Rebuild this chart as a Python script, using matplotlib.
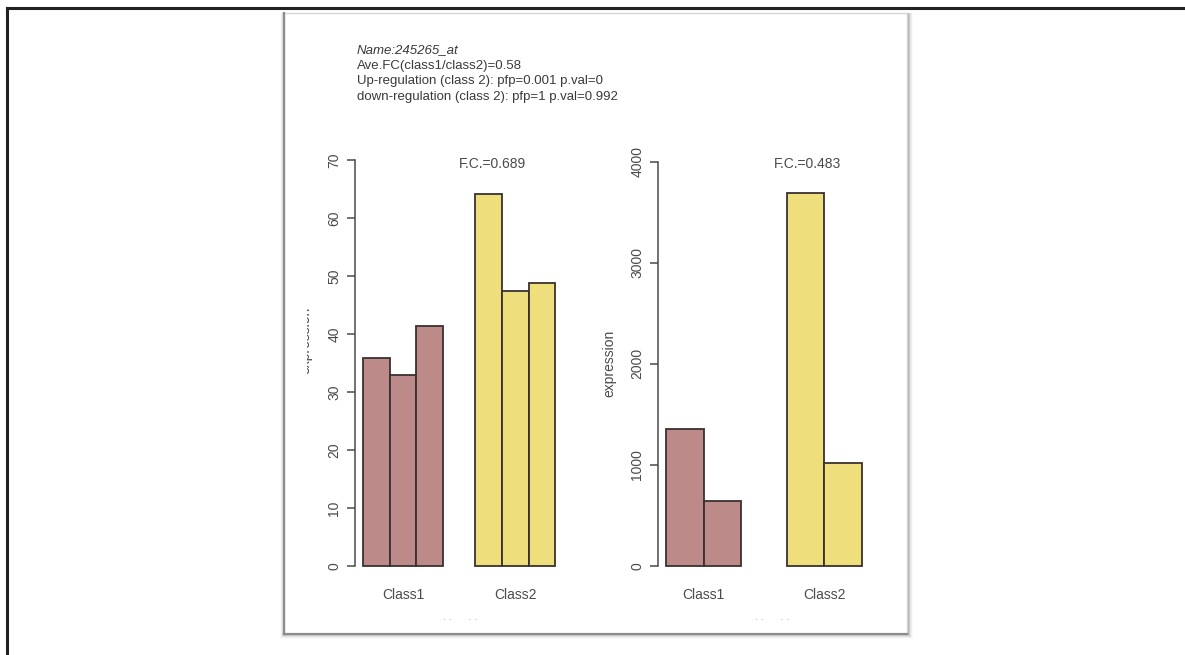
import matplotlib.pyplot as plt
from matplotlib.patches import Rectangle

plt.rcParams['font.family'] = ['Liberation Sans', 'DejaVu Sans']

# probe set summary shown above the panels
probe_name = "Name:245265_at"
summary_lines = [
    "Ave.FC(class1/class2)=0.58",
    "Up-regulation (class 2): pfp=0.001 p.val=0",
    "down-regulation (class 2): pfp=1 p.val=0.992",
]

group_names = ["Class1", "Class2"]

# left panel: 3 replicates per class
left_class1 = [35.9, 32.9, 41.3]
left_class2 = [64.2, 47.4, 48.8]
left_fc = "F.C.=0.689"
left_ticks = [0, 10, 20, 30, 40, 50, 60, 70]

# right panel: 2 replicates per class
right_class1 = [1355, 645]
right_class2 = [3695, 1020]
right_fc = "F.C.=0.483"
right_ticks = [0, 1000, 2000, 3000, 4000]

col_class1 = "#BD8A8A"
col_class2 = "#EEDF7C"
txt = "#3a3a3a"
grey = "#4a4a4a"

W, H = 1185, 655
fig = plt.figure(figsize=(W / 100, H / 100), dpi=100)
fig.patch.set_facecolor("white")


def px_box(x0, y0, x1, y1):
    # pixel box (top-left origin) -> figure fraction
    return [x0 / W, 1 - y1 / H, (x1 - x0) / W, (y1 - y0) / H]


def fr(x, y):
    return x / W, 1 - y / H


# outer frame (only the top/left edges fall inside the image)
fig.add_artist(plt.Line2D([7 / W, 7 / W], [0, 1 - 8 / H], color="#222222", lw=2.2))
fig.add_artist(plt.Line2D([7 / W, 1], [1 - 8 / H, 1 - 8 / H], color="#222222", lw=2.2))

# page with a soft drop shadow
px0, py0, px1, py1 = 284, 13, 907, 634
for i, a in enumerate([0.12, 0.09, 0.06, 0.04, 0.02]):
    d = i + 1
    fig.add_artist(Rectangle(fr(px0 - d + 1, py1 + d), (px1 - px0 + 2 * d) / W,
                             (py1 - py0 + d) / H, transform=fig.transFigure,
                             facecolor="black", edgecolor="none", alpha=a, zorder=-3))
fig.add_artist(Rectangle(fr(px0, py1), (px1 - px0) / W, (py1 - py0) / H,
                         transform=fig.transFigure, facecolor="white",
                         edgecolor="#d4d4d4", lw=1.0, zorder=-2))
# darker left and bottom edges of the page
fig.add_artist(plt.Line2D([px0 / W, px0 / W], [1 - py1 / H, 1 - py0 / H],
                          color="#8c8c8c", lw=1.6, zorder=-1))
fig.add_artist(plt.Line2D([px0 / W, px1 / W], [1 - py1 / H, 1 - py1 / H],
                          color="#8c8c8c", lw=1.6, zorder=-1))

# header text
fig.text(357 / W, 1 - 50 / H, probe_name, style="italic", fontsize=9.5,
         color=txt, va="center")
for k, line in enumerate(summary_lines):
    fig.text(357 / W, 1 - (65.5 + 15.7 * k) / H, line, fontsize=9.5,
             color=txt, va="center")


def bar_panel(box, xlim, ylim, groups, ticks, fc_text, fc_xy):
    ax = fig.add_axes(px_box(*box))
    ax.set_zorder(1)
    ax.set_facecolor("none")
    lefts, centers = [], []
    start = 0.0
    for vals in groups:
        pos = [start + j for j in range(len(vals))]
        lefts.append(pos)
        centers.append(start + len(vals) / 2)
        start += len(vals) + 1.2
    for pos, vals, col in zip(lefts, groups, [col_class1, col_class2]):
        ax.bar(pos, vals, width=1, align="edge", color=col,
               edgecolor="#3a3030", linewidth=1.3)
    ax.set_xlim(*xlim)
    ax.set_ylim(*ylim)
    for s in ["top", "right", "bottom"]:
        ax.spines[s].set_visible(False)
    ax.spines["left"].set_bounds(ticks[0], ticks[-1])
    ax.spines["left"].set_color(grey)
    ax.spines["left"].set_linewidth(1.1)
    ax.set_yticks(ticks)
    ax.set_yticklabels([str(t) for t in ticks], rotation=90, va="center")
    ax.tick_params(axis="y", length=6, width=1.1, color=grey,
                   labelsize=10, labelcolor=grey, pad=4)
    ax.set_xticks(centers)
    ax.set_xticklabels(group_names)
    ax.tick_params(axis="x", length=0, labelsize=10, labelcolor=grey, pad=4)
    ax.text(fc_xy[0], fc_xy[1], fc_text, fontsize=10, color=grey,
            ha="center", va="center")
    return ax


ax1 = bar_panel((355.3, 143.8, 563.0, 582.2), (-0.288, 7.488), (-2.8, 72.8),
                [left_class1, left_class2], left_ticks, left_fc, (4.83, 69.3))
ax2 = bar_panel((658.2, 143.8, 869.9, 582.2), (-0.208, 5.408), (-160, 4177),
                [right_class1, right_class2], right_ticks, right_fc, (3.74, 3980))

ax2.set_ylabel("expression", fontsize=10, color=grey, labelpad=10)

# left y label, partly hidden behind an overlapping edge
lab = fig.text(305 / W, 1 - 340 / H, "expression", rotation=90, fontsize=10,
               color=grey, ha="center", va="center")
lab.set_clip_path(Rectangle(fr(306.5, 600), 40 / W, 500 / H, transform=fig.transFigure))

# faint remnants of the x labels
for cx in (460, 772):
    fig.text(cx / W, 1 - 620 / H, "\u00b7 \u00b7      \u00b7 \u00b7", fontsize=7,
             color="#999999", ha="center", va="center")

fig.savefig("out.png", dpi=100)
